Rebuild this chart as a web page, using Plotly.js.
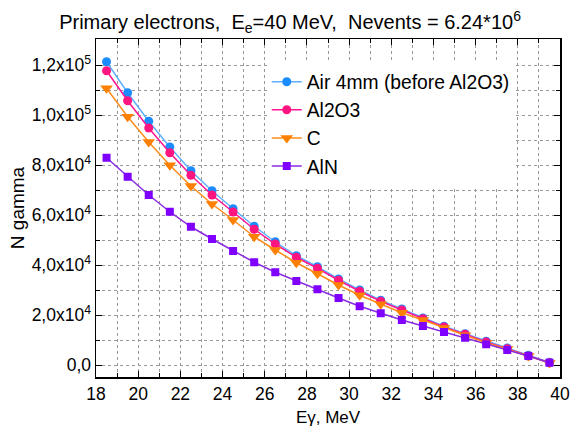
<!DOCTYPE html>
<html><head><meta charset="utf-8">
<script src="https://cdn.plot.ly/plotly-3.0.1.min.js"></script>
<style>body{margin:0;background:#fff}#c{width:571px;height:427px}</style>
</head><body><div id="c"></div>
<script>
const energy = [18.5,19.5,20.5,21.5,22.5,23.5,24.5,25.5,26.5,27.5,28.5,29.5,30.5,31.5,32.5,33.5,34.5,35.5,36.5,37.5,38.5,39.5];
const air   = [121300,108900,97500,87200,77700,69700,62500,55500,49300,43700,39300,34400,30000,25900,22400,18800,15500,12500,9500,6800,3900,1100];
const al2o3 = [117700,105700,94800,84900,75900,68000,61200,54300,48400,43100,38700,33900,29500,25500,22000,18500,15200,12300,9200,6500,3600,900];
const carbon= [110700,99300,89200,79900,71600,64400,58000,51300,46000,40900,36500,32000,27900,24300,20900,18000,14800,11900,8900,6400,3600,800];
const aln   = [82900,75300,68000,61300,55300,50400,45600,41100,37100,33600,30300,26800,23500,20700,18000,15600,13200,10900,8300,6000,3600,900];
const yTickVals = [0,20000,40000,60000,80000,100000,120000];
const yTickText = ['0,0','2,0x10<sup>4</sup>','4,0x10<sup>4</sup>','6,0x10<sup>4</sup>','8,0x10<sup>4</sup>','1,0x10<sup>5</sup>','1,2x10<sup>5</sup>'];
const names = ['Air 4mm (before Al2O3)','Al2O3','C','AlN'];

const FONT = 'Liberation Sans, Arial, sans-serif';
const traces = [
  {x:energy,y:air,name:names[0],mode:'lines+markers',line:{color:'#5fb0ff',width:1.5},marker:{symbol:'circle',size:9,color:'#1a8cff'}},
  {x:energy,y:al2o3,name:names[1],mode:'lines+markers',line:{color:'#ff1493',width:1.5},marker:{symbol:'circle',size:9,color:'#ff1480'}},
  {x:energy,y:carbon,name:names[2],mode:'lines+markers',line:{color:'#ff8c1a',width:1.5},marker:{symbol:'triangle-down',size:11,color:'#ff8000'}},
  {x:energy,y:aln,name:names[3],mode:'lines+markers',line:{color:'#8a2be2',width:1.5},marker:{symbol:'square',size:8,color:'#8000ff'}}
];
const layout = {
  width:571,height:427,
  margin:{l:96,r:11,t:39,b:50},
  paper_bgcolor:'#fff',plot_bgcolor:'#fff',
  font:{family:FONT,size:16,color:'#000'},
  title:{text:'Primary electrons,  E<sub>e</sub>=40 MeV,  Nevents = 6.24*10<sup>6</sup>',x:0.508,xanchor:'center',y:0.948,yanchor:'middle',font:{family:FONT,size:20,color:'#000'}},
  xaxis:{range:[18,40],tickmode:'linear',tick0:18,dtick:2,ticks:'inside',ticklen:6,tickcolor:'#000',
    showline:true,linecolor:'#000',linewidth:1.5,mirror:'ticks',zeroline:false,
    showgrid:true,gridcolor:'#999',griddash:'dot',
    minor:{tickmode:'linear',tick0:18,dtick:1,ticks:'inside',ticklen:4,tickcolor:'#000',showgrid:true,gridcolor:'#999',griddash:'dot'},
    tickfont:{size:17.5},
    title:{text:'E\u03b3, MeV',font:{size:17},standoff:11}},
  yaxis:{range:[-4800,130400],tickmode:'array',tickvals:yTickVals,ticktext:yTickText,ticks:'inside',ticklen:6,tickcolor:'#000',
    showline:true,linecolor:'#000',linewidth:1.5,mirror:'ticks',zeroline:false,
    showgrid:true,gridcolor:'#999',griddash:'dot',
    minor:{tickmode:'linear',tick0:0,dtick:10000,ticks:'inside',ticklen:4,tickcolor:'#000',showgrid:true,gridcolor:'#999',griddash:'dot'},
    tickfont:{size:17.5},
    title:{text:'N gamma',font:{size:19},standoff:2}},
  legend:{x:0.368,y:0.93,xanchor:'left',yanchor:'top',bgcolor:'#fff',borderwidth:0,font:{size:19.3},tracegroupgap:0},
  showlegend:true
};
Plotly.newPlot('c',traces,layout,{displayModeBar:false,staticPlot:true});
</script></body></html>
